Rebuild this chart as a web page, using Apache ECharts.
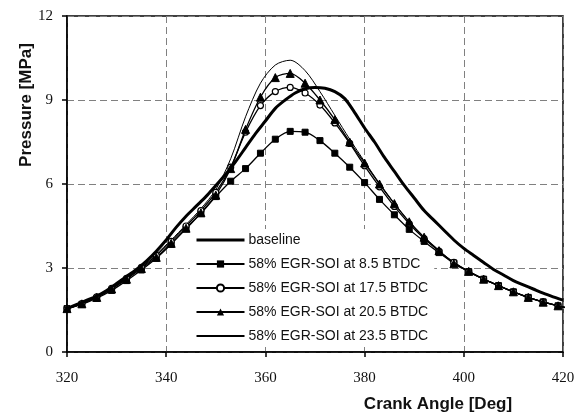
<!DOCTYPE html>
<html>
<head>
<meta charset="utf-8">
<script src="https://cdn.jsdelivr.net/npm/echarts@6/dist/echarts.min.js"></script>
<style>html,body{margin:0;padding:0;background:#fff;}#c{width:586px;height:419px;}</style>
</head>
<body>
<div id="c"></div>
<script>
// ---- data ----
var xTicks = [320, 340, 360, 380, 400, 420];
var yTicks = [0, 3, 6, 9, 12];
var seriesNames = ['baseline', '58% EGR-SOI at 8.5 BTDC', '58% EGR-SOI at 17.5 BTDC', '58% EGR-SOI at 20.5 BTDC', '58% EGR-SOI at 23.5 BTDC'];

var baselineAngle = [320,322,324,326,328,330,332,334,336,338,340,342,344,346,348,350,352,354,356,358,360,362,364,366,368,370,372,374,376,378,380,382,384,386,388,390,392,394,396,398,400,402,404,406,408,410,412,414,416,418,420];
var baselinePressure = [1.55,1.7,1.85,2.0,2.2,2.45,2.7,2.95,3.25,3.6,4.0,4.45,4.85,5.2,5.55,5.95,6.35,6.8,7.3,7.8,8.25,8.7,9.0,9.25,9.4,9.45,9.42,9.3,9.05,8.55,8.0,7.5,6.95,6.45,5.95,5.5,5.05,4.7,4.35,4.0,3.7,3.45,3.2,2.95,2.75,2.55,2.4,2.25,2.1,1.97,1.85];

var soiAngle = [320,323,326,329,332,335,338,341,344,347,350,353,356,359,362,365,368,371,374,377,380,383,386,389,392,395,398,401,404,407,410,413,416,419,422];
var soi85 = [1.55,1.7,1.92,2.2,2.55,2.93,3.35,3.85,4.4,4.95,5.55,6.1,6.55,7.1,7.6,7.88,7.85,7.55,7.1,6.6,6.05,5.45,4.9,4.38,3.95,3.55,3.18,2.87,2.6,2.37,2.15,1.95,1.79,1.65,1.53];
var soi175 = [1.55,1.73,1.97,2.27,2.63,3.02,3.45,3.95,4.5,5.05,5.7,6.6,7.85,8.8,9.3,9.45,9.25,8.82,8.18,7.45,6.65,5.9,5.2,4.58,4.05,3.6,3.2,2.87,2.6,2.37,2.15,1.95,1.79,1.65,1.53];
var soi205 = [1.55,1.72,1.95,2.25,2.6,2.98,3.38,3.88,4.42,4.97,5.6,6.55,7.95,9.1,9.8,9.95,9.6,9.0,8.3,7.5,6.75,6.0,5.3,4.65,4.1,3.62,3.15,2.88,2.6,2.37,2.15,1.95,1.78,1.65,1.52];
var soi235 = [1.55,1.74,1.98,2.28,2.65,3.05,3.5,4.0,4.55,5.12,5.8,6.9,8.4,9.6,10.25,10.42,10.05,9.3,8.45,7.6,6.8,6.02,5.3,4.65,4.1,3.62,3.2,2.88,2.6,2.37,2.15,1.95,1.79,1.65,1.53];

function pairs(xs, ys) { return xs.map(function (x, i) { return [x, ys[i]]; }); }

var chart = echarts.init(document.getElementById('c'), null, {renderer: 'canvas'});
var tickFont = {fontFamily: 'Liberation Serif', fontSize: 15, color: '#111'};
var nameFont = {fontFamily: 'Liberation Sans', fontWeight: 'bold', fontSize: 17, color: '#111'};

chart.setOption({
  animation: false,
  backgroundColor: '#fff',
  grid: {left: 67, right: 23, top: 16, bottom: 67, show: true, borderColor: '#000', borderWidth: 1.5, backgroundColor: 'transparent'},
  legend: {
    orient: 'vertical', left: 190, top: 229,
    itemWidth: 48, itemHeight: 9, itemGap: 10,
    backgroundColor: '#fff', padding: [4, 6, 4, 5],
    textStyle: {fontFamily: 'Liberation Sans', fontSize: 14, color: '#111', padding: [0, 0, 0, -1]},
    data: [
      {name: seriesNames[0], itemStyle: {opacity: 0}, lineStyle: {width: 3}},
      {name: seriesNames[1]},
      {name: seriesNames[2]},
      {name: seriesNames[3]},
      {name: seriesNames[4], itemStyle: {opacity: 0}}
    ]
  },
  xAxis: {
    type: 'value', min: xTicks[0], max: xTicks[xTicks.length - 1], interval: xTicks[1] - xTicks[0],
    name: 'Crank Angle [Deg]', nameLocation: 'middle', nameGap: 44, nameMoveOverlap: false,
    nameTextStyle: Object.assign({padding: [0, 0, 0, 246]}, nameFont),
    axisLine: {show: true, lineStyle: {color: '#000', width: 1.5}},
    axisTick: {show: true, inside: false, length: 5, lineStyle: {color: '#000', width: 1.5}},
    axisLabel: Object.assign({margin: 19}, tickFont),
    splitLine: {show: true, lineStyle: {color: '#808080', width: 1, type: [7, 4]}}
  },
  yAxis: {
    type: 'value', min: yTicks[0], max: yTicks[yTicks.length - 1], interval: yTicks[1] - yTicks[0],
    name: 'Pressure [MPa]', nameLocation: 'middle', nameGap: 32, nameRotate: 90, nameMoveOverlap: false,
    nameTextStyle: Object.assign({padding: [0, 0, 0, 158]}, nameFont),
    axisLine: {show: true, lineStyle: {color: '#000', width: 1.5}},
    axisTick: {show: true, inside: false, length: 5, lineStyle: {color: '#000', width: 1.5}},
    axisLabel: Object.assign({margin: 14}, tickFont),
    splitLine: {show: true, lineStyle: {color: '#808080', width: 1, type: [7, 4]}}
  },
  series: [
    {name: seriesNames[0], type: 'line', data: pairs(baselineAngle, baselinePressure), showSymbol: false, symbol: 'none', smooth: 0.3,
      lineStyle: {color: '#000', width: 3}, itemStyle: {color: '#000'}, z: 5},
    {name: seriesNames[1], type: 'line', data: pairs(soiAngle, soi85), symbol: 'rect', symbolSize: 6, smooth: 0.3,
      lineStyle: {color: '#000', width: 1.3}, itemStyle: {color: '#000', borderColor: '#000'}, z: 4},
    {name: seriesNames[2], type: 'line', data: pairs(soiAngle, soi175), symbol: 'circle', symbolSize: 6, smooth: 0.3,
      lineStyle: {color: '#000', width: 1.3}, itemStyle: {color: '#fff', borderColor: '#000', borderWidth: 1.2}, z: 4},
    {name: seriesNames[3], type: 'line', data: pairs(soiAngle, soi205), symbol: 'triangle', symbolSize: 8, smooth: 0.3,
      lineStyle: {color: '#000', width: 1.3}, itemStyle: {color: '#000', borderColor: '#000'}, z: 4},
    {name: seriesNames[4], type: 'line', data: pairs(soiAngle, soi235), showSymbol: false, symbol: 'none', smooth: 0.3,
      lineStyle: {color: '#000', width: 1}, itemStyle: {color: '#000'}, z: 4}
  ]
});
</script>
</body>
</html>
